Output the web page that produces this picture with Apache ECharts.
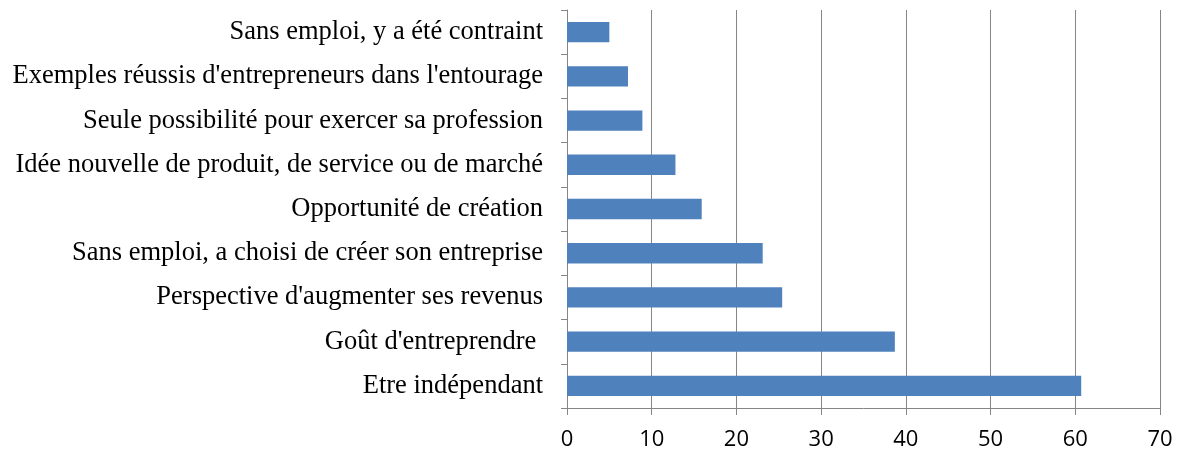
<!DOCTYPE html>
<html>
<head>
<meta charset="utf-8">
<script src="https://cdn.jsdelivr.net/npm/echarts@6/dist/echarts.min.js"></script>
<style>
  html, body { margin: 0; padding: 0; background: #fff; }
  #chart { width: 1180px; height: 454px; }
</style>
</head>
<body>
<div id="chart"></div>
<script>
// motifs, from bottom to top as in the picture
const motifs = [
  "Etre indépendant",
  "Goût d'entreprendre ",
  "Perspective d'augmenter ses revenus",
  "Sans emploi, a choisi de créer son entreprise",
  "Opportunité de création",
  "Idée nouvelle de produit, de service ou de marché",
  "Seule possibilité pour exercer sa profession",
  "Exemples réussis d'entrepreneurs dans l'entourage",
  "Sans emploi, y a été contraint"
];
const valeurs = [60.7, 38.7, 25.4, 23.1, 15.9, 12.8, 8.9, 7.2, 5.0];
const xTicks = { min: 0, max: 70, interval: 10 };

const axisGray = "#868686";

const chart = echarts.init(document.getElementById("chart"));
chart.setOption({
  animation: false,
  grid: { left: 567, right: 20, top: 10, bottom: 46 },
  xAxis: {
    type: "value",
    min: xTicks.min,
    max: xTicks.max,
    interval: xTicks.interval,
    axisLine: { show: true, lineStyle: { color: axisGray, width: 1 } },
    axisTick: { show: true, length: 7, lineStyle: { color: axisGray } },
    splitLine: { show: true, lineStyle: { color: axisGray, width: 1 } },
    axisLabel: {
      margin: 21,
      color: "#000",
      fontFamily: "Open Sans",
      fontSize: 22
    }
  },
  yAxis: {
    type: "category",
    data: motifs,
    axisLine: { show: true, lineStyle: { color: axisGray, width: 1 } },
    axisTick: { show: true, length: 6, lineStyle: { color: axisGray } },
    axisLabel: {
      margin: 24,
      color: "#000",
      fontFamily: "Liberation Serif",
      fontSize: 26.5
    }
  },
  series: [
    {
      type: "bar",
      data: valeurs,
      barWidth: "46%",
      itemStyle: { color: "#4f81bd" }
    }
  ]
});
</script>
</body>
</html>
